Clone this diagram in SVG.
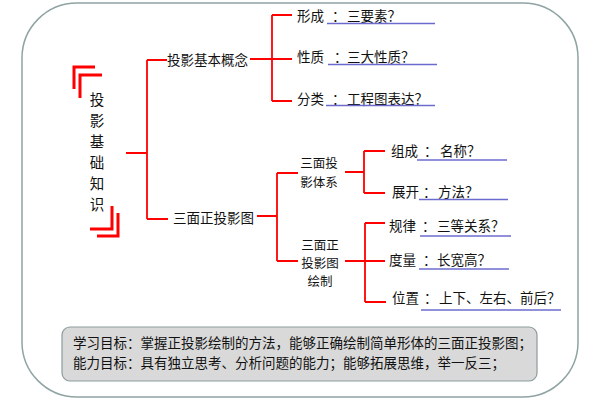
<svg xmlns="http://www.w3.org/2000/svg" width="600" height="400" viewBox="0 0 600 400">
<style>
text{font-family:"Noto Sans CJK SC","Noto Sans",sans-serif;font-size:13.5px;fill:#111;}
.title{font-size:14.5px;}
.mid{text-anchor:middle;}
.ml{font-size:12.5px;}
.ln{stroke:#ff0000;stroke-width:1.8;fill:none;}
.br{stroke:#ff0000;stroke-width:3;fill:none;}
.ul{stroke:#6b6bcf;stroke-width:1.5;}
</style>
<rect x="22" y="3" width="556" height="394" rx="55" ry="55" fill="#fff" stroke="#8fa3a3" stroke-width="1.5"/>
<g id="root">
<path class="br" d="M74,89 V67 H95 M80,98 V75 H102 M90,229 H112 V206 M97,236 H118 V213"/>
<text class="title mid" x="97" y="105">投</text>
<text class="title mid" x="97" y="126">影</text>
<text class="title mid" x="97" y="147">基</text>
<text class="title mid" x="97" y="168">础</text>
<text class="title mid" x="97" y="189">知</text>
<text class="title mid" x="97" y="210">识</text>
</g>
<g id="connectors">
<path class="ln" d="M126,153 H147 M147,60 V219 M147,60 H167 M147,219 H168"/>
<path class="ln" d="M250,59 H272 M272,15 V101 M272,15 H292 M272,59 H292 M272,101 H292"/>
<path class="ln" d="M257,216 H277 M277,173 V261 M277,173 H298 M277,261 H298"/>
<path class="ln" d="M345,172 H364 M364,151 V193 M364,151 H385 M364,193 H385"/>
<path class="ln" d="M345,261 H365 M365,223 V302 M365,223 H385 M365,261 H385 M365,302 H386"/>
</g>
<g id="n-basic"><text x="167" y="65">投影基本概念</text></g>
<g id="n-three"><text x="173" y="223">三面正投影图</text></g>
<g id="n-form"><text x="297" y="21">形成</text><text x="332" y="21">：</text><text x="347" y="21">三要素？</text><line class="ul" x1="327" y1="23.5" x2="435" y2="23.5"/></g>
<g id="n-prop"><text x="297" y="62">性质</text><text x="334" y="62">：</text><text x="347" y="62">三大性质？</text><line class="ul" x1="328" y1="64.5" x2="437" y2="64.5"/></g>
<g id="n-class"><text x="297" y="104">分类</text><text x="332" y="104">：</text><text x="347" y="104">工程图表达？</text><line class="ul" x1="326" y1="105.5" x2="435" y2="105.5"/></g>
<g id="n-system"><text class="mid ml" x="319" y="168">三面投</text><text class="mid ml" x="319" y="187">影体系</text></g>
<g id="n-draw"><text class="mid ml" x="320" y="250">三面正</text><text class="mid ml" x="320" y="268">投影图</text><text class="mid ml" x="320" y="286">绘制</text></g>
<g id="n-comp"><text x="391" y="156">组成</text><text x="424" y="156">：</text><text x="440" y="156">名称？</text><line class="ul" x1="417" y1="160" x2="507" y2="160"/></g>
<g id="n-unfold"><text x="392" y="197">展开</text><text x="423" y="197">：</text><text x="438" y="197">方法？</text><line class="ul" x1="419" y1="199.5" x2="508" y2="199.5"/></g>
<g id="n-rule"><text x="389" y="231">规律</text><text x="422" y="231">：</text><text x="437" y="231">三等关系？</text><line class="ul" x1="420" y1="236" x2="511" y2="236"/></g>
<g id="n-measure"><text x="389" y="265">度量</text><text x="423" y="265">：</text><text x="437" y="265">长宽高？</text><line class="ul" x1="419" y1="269" x2="509" y2="269"/></g>
<g id="n-pos"><text x="392" y="303">位置</text><text x="424" y="303">：</text><text x="439" y="303">上下、左右、前后？</text><line class="ul" x1="421" y1="310" x2="561" y2="310"/></g>
<g id="goals">
<rect x="62" y="327" width="475" height="54" rx="8" ry="8" fill="#d9d9d9" stroke="#8c9c9c" stroke-width="1.2"/>
<text x="73" y="348">学习目标：掌握正投影绘制的方法，能够正确绘制简单形体的三面正投影图；</text>
<text x="73" y="368">能力目标：具有独立思考、分析问题的能力；能够拓展思维，举一反三；</text>
</g>
</svg>
